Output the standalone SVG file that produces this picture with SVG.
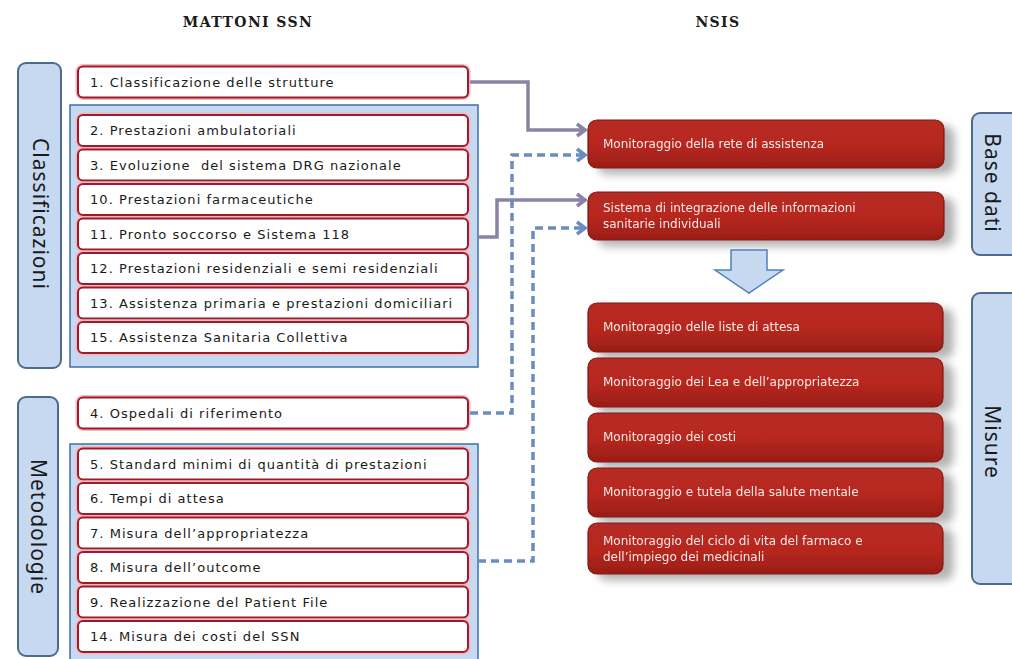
<svg xmlns="http://www.w3.org/2000/svg" width="1012" height="659" viewBox="0 0 1012 659">
<defs>
<style>
.hdr{font-family:"DejaVu Serif","Liberation Serif",serif;font-size:14px;font-weight:bold;fill:#1a1a1a;letter-spacing:1.4px}
.side{fill:#c6d9f1;stroke:#4e6a8c;stroke-width:2}
.sidetxt{font-family:"Noto Sans","Open Sans",sans-serif;font-size:21px;fill:#1a1a1a;text-anchor:middle;letter-spacing:1px}
.cont{fill:#c6d9f1;stroke:#3f6fa8;stroke-width:1.5}
.glow{fill:none;stroke:#f2b8c0;stroke-width:5}
.item{fill:#ffffff;stroke:#9e1b2b;stroke-width:2}
.itxt{font-family:"DejaVu Sans","Liberation Sans",sans-serif;font-size:13px;fill:#1a1a1a;letter-spacing:1.05px;white-space:pre}
.red{fill:url(#rg);stroke:#7f1a14;stroke-width:1.2}
.rtxt{font-family:"DejaVu Sans","Liberation Sans",sans-serif;font-size:12px;fill:#f8e8e6}
.solid{fill:none;stroke:#8c82a6;stroke-width:3.5}
.dash{fill:none;stroke:#6b8cc0;stroke-width:3.5;stroke-dasharray:8 5}
</style>
<linearGradient id="rg" x1="0" y1="0" x2="0" y2="1">
<stop offset="0" stop-color="#b52a22"/>
<stop offset="0.5" stop-color="#b8281f"/>
<stop offset="1" stop-color="#9a1d17"/>
</linearGradient>
<filter id="sh" x="-10%" y="-20%" width="130%" height="160%">
<feGaussianBlur in="SourceAlpha" stdDeviation="4"/>
<feOffset dx="10" dy="6"/>
<feComponentTransfer><feFuncA type="linear" slope="0.3"/></feComponentTransfer>
<feMerge><feMergeNode/><feMergeNode in="SourceGraphic"/></feMerge>
</filter>
<marker id="ah" viewBox="0 0 12 16" refX="11" refY="8" markerWidth="12" markerHeight="16" markerUnits="userSpaceOnUse" orient="auto">
<path d="M2,2 L10,8 L2,14" fill="none" stroke="#8c82a6" stroke-width="3.5"/>
</marker>
<marker id="ahd" viewBox="0 0 12 16" refX="11" refY="8" markerWidth="12" markerHeight="16" markerUnits="userSpaceOnUse" orient="auto">
<path d="M2,2 L10,8 L2,14" fill="none" stroke="#6b8cc0" stroke-width="3.5"/>
</marker>
</defs>
<rect width="1012" height="659" fill="#ffffff"/>

<text class="hdr" x="248" y="27" text-anchor="middle">MATTONI SSN</text>
<text class="hdr" x="718" y="27" text-anchor="middle">NSIS</text>

<g id="classificazioni">
<rect class="side" x="18" y="63" width="43" height="305" rx="8"/>
<text class="sidetxt" transform="translate(33,214) rotate(90)">Classificazioni</text>
</g>
<g id="cont1"><rect class="cont" x="70" y="105" width="408" height="262"/></g>

<g id="item1"><rect class="glow" x="78" y="66.5" width="390" height="31" rx="5"/><rect class="item" x="78" y="66.5" width="390" height="31" rx="5"/><text class="itxt" x="90" y="86.5">1. Classificazione delle strutture</text></g>
<g id="item2"><rect class="glow" x="78" y="115" width="390" height="31" rx="5"/><rect class="item" x="78" y="115" width="390" height="31" rx="5"/><text class="itxt" x="90" y="135">2. Prestazioni ambulatoriali</text></g>
<g id="item3"><rect class="glow" x="78" y="149.5" width="390" height="31" rx="5"/><rect class="item" x="78" y="149.5" width="390" height="31" rx="5"/><text class="itxt" x="90" y="169.5">3. Evoluzione  del sistema DRG nazionale</text></g>
<g id="item10"><rect class="glow" x="78" y="184" width="390" height="31" rx="5"/><rect class="item" x="78" y="184" width="390" height="31" rx="5"/><text class="itxt" x="90" y="204">10. Prestazioni farmaceutiche</text></g>
<g id="item11"><rect class="glow" x="78" y="218.5" width="390" height="31" rx="5"/><rect class="item" x="78" y="218.5" width="390" height="31" rx="5"/><text class="itxt" x="90" y="238.5">11. Pronto soccorso e Sistema 118</text></g>
<g id="item12"><rect class="glow" x="78" y="253" width="390" height="31" rx="5"/><rect class="item" x="78" y="253" width="390" height="31" rx="5"/><text class="itxt" x="90" y="273">12. Prestazioni residenziali e semi residenziali</text></g>
<g id="item13"><rect class="glow" x="78" y="287.5" width="390" height="31" rx="5"/><rect class="item" x="78" y="287.5" width="390" height="31" rx="5"/><text class="itxt" x="90" y="307.5">13. Assistenza primaria e prestazioni domiciliari</text></g>
<g id="item15"><rect class="glow" x="78" y="322" width="390" height="31" rx="5"/><rect class="item" x="78" y="322" width="390" height="31" rx="5"/><text class="itxt" x="90" y="342">15. Assistenza Sanitaria Collettiva</text></g>

<g id="metodologie">
<rect class="side" x="18" y="397" width="40" height="259" rx="8"/>
<text class="sidetxt" transform="translate(31,527) rotate(90)">Metodologie</text>
</g>
<g id="cont2"><rect class="cont" x="70" y="444" width="408" height="220"/></g>

<g id="item4"><rect class="glow" x="78" y="397.5" width="390" height="31" rx="5"/><rect class="item" x="78" y="397.5" width="390" height="31" rx="5"/><text class="itxt" x="90" y="417.5">4. Ospedali di riferimento</text></g>
<g id="item5"><rect class="glow" x="78" y="448.5" width="390" height="31" rx="5"/><rect class="item" x="78" y="448.5" width="390" height="31" rx="5"/><text class="itxt" x="90" y="468.5">5. Standard minimi di quantità di prestazioni</text></g>
<g id="item6"><rect class="glow" x="78" y="483" width="390" height="31" rx="5"/><rect class="item" x="78" y="483" width="390" height="31" rx="5"/><text class="itxt" x="90" y="503">6. Tempi di attesa</text></g>
<g id="item7"><rect class="glow" x="78" y="517.5" width="390" height="31" rx="5"/><rect class="item" x="78" y="517.5" width="390" height="31" rx="5"/><text class="itxt" x="90" y="537.5">7. Misura dell’appropriatezza</text></g>
<g id="item8"><rect class="glow" x="78" y="552" width="390" height="31" rx="5"/><rect class="item" x="78" y="552" width="390" height="31" rx="5"/><text class="itxt" x="90" y="572">8. Misura dell’outcome</text></g>
<g id="item9"><rect class="glow" x="78" y="586.5" width="390" height="31" rx="5"/><rect class="item" x="78" y="586.5" width="390" height="31" rx="5"/><text class="itxt" x="90" y="606.5">9. Realizzazione del Patient File</text></g>
<g id="item14"><rect class="glow" x="78" y="621" width="390" height="31" rx="5"/><rect class="item" x="78" y="621" width="390" height="31" rx="5"/><text class="itxt" x="90" y="641">14. Misura dei costi del SSN</text></g>

<g id="connectors">
<path class="solid" d="M470,82 H528 V130 H586" marker-end="url(#ah)"/>
<path class="solid" d="M478,237 H497 V200 H586" marker-end="url(#ah)"/>
<path class="dash" d="M470,413 H512 V155 H586" marker-end="url(#ahd)"/>
<path class="dash" d="M478,561 H533 V228 H586" marker-end="url(#ahd)"/>
</g>

<g id="nsis1" filter="url(#sh)"><rect class="red" x="588" y="120" width="356" height="48" rx="9"/><text class="rtxt" x="603" y="148">Monitoraggio della rete di assistenza</text></g>
<g id="nsis2" filter="url(#sh)"><rect class="red" x="588" y="192" width="356" height="48" rx="9"/><text class="rtxt" x="603" y="212">Sistema di integrazione delle informazioni</text><text class="rtxt" x="603" y="228">sanitarie individuali</text></g>

<g id="freccia"><path d="M731,250 H767 V270 H783 L749,293 L715,270 H731 Z" fill="#c6d9f1" stroke="#4f81bd" stroke-width="1.5"/></g>

<g id="misura1" filter="url(#sh)"><rect class="red" x="588" y="303" width="355" height="49" rx="9"/><text class="rtxt" x="603" y="331">Monitoraggio delle liste di attesa</text></g>
<g id="misura2" filter="url(#sh)"><rect class="red" x="588" y="358" width="355" height="49" rx="9"/><text class="rtxt" x="603" y="386">Monitoraggio dei Lea e dell’appropriatezza</text></g>
<g id="misura3" filter="url(#sh)"><rect class="red" x="588" y="413" width="355" height="49" rx="9"/><text class="rtxt" x="603" y="441">Monitoraggio dei costi</text></g>
<g id="misura4" filter="url(#sh)"><rect class="red" x="588" y="468" width="355" height="49" rx="9"/><text class="rtxt" x="603" y="496">Monitoraggio e tutela della salute mentale</text></g>
<g id="misura5" filter="url(#sh)"><rect class="red" x="588" y="523" width="355" height="51" rx="9"/><text class="rtxt" x="603" y="545">Monitoraggio del ciclo di vita del farmaco e</text><text class="rtxt" x="603" y="561">dell’impiego dei medicinali</text></g>

<g id="basedati">
<rect class="side" x="972" y="113" width="52" height="142" rx="8"/>
<text class="sidetxt" transform="translate(985,183) rotate(90)">Base dati</text>
</g>
<g id="misure">
<rect class="side" x="972" y="293" width="52" height="291" rx="8"/>
<text class="sidetxt" transform="translate(985,442) rotate(90)">Misure</text>
</g>
</svg>
